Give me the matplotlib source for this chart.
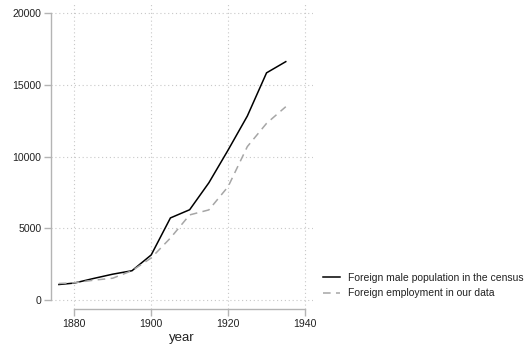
import matplotlib
matplotlib.use("Agg")
import matplotlib.pyplot as plt

# Census foreign male population vs. foreign employment in the data
years = [1876, 1880, 1885, 1890, 1895, 1900, 1905, 1910, 1915, 1920, 1925, 1930, 1935]
census_pop = [1080, 1180, 1500, 1800, 2040, 3140, 5720, 6290, 8170, 10450, 12820, 15830, 16610]
employment = [1150, 1200, 1380, 1520, 2040, 2930, 4320, 5930, 6280, 7900, 10690, 12310, 13470]

x_ticks = [1880, 1900, 1920, 1940]
y_ticks = [0, 5000, 10000, 15000, 20000]
legend_labels = ["Foreign male population in the census", "Foreign employment in our data"]

plt.rcParams["font.family"] = ["Liberation Sans", "DejaVu Sans"]

W, H = 526, 349
fig = plt.figure(figsize=(W / 100, H / 100), dpi=100)
left, right, top, bottom = 51, 313, 3, 309
ax = fig.add_axes([left / W, 1 - bottom / H, (right - left) / W, (bottom - top) / H])

ln1, = ax.plot(years, census_pop, color="black", lw=1.1, solid_joinstyle="miter")
ln2, = ax.plot(years, employment, color="#a6a6a6", lw=1.1, dashes=(5, 3.5))

ax.set_xlim(1873.94, 1942.08)
ax.set_ylim(-627, 20697)
ax.set_xticks(x_ticks)
ax.set_yticks(y_ticks)
ax.set_xticklabels([str(v) for v in x_ticks])
ax.set_yticklabels([str(v) for v in y_ticks])

ax.grid(True, color="#c8c8c8", lw=0.8, linestyle=(0, (1, 2.5)))
ax.set_axisbelow(True)

for s in ("top", "right"):
    ax.spines[s].set_visible(False)
for s in ("left", "bottom"):
    ax.spines[s].set_color("#b4b4b4")
    ax.spines[s].set_linewidth(1.0)
ax.spines["left"].set_bounds(0, 20000)
ax.spines["bottom"].set_bounds(1880, 1940)

ax.tick_params(axis="both", colors="#b4b4b4", labelcolor="#222222",
               labelsize=7.6, length=5, width=1.0, pad=2)

ax.set_xlabel("year", fontsize=9.5, color="#222222", labelpad=2)

fig.legend([ln1, ln2], legend_labels, loc="center left",
           bbox_to_anchor=(323 / W, 1 - 285.5 / H), frameon=False,
           fontsize=7.45, handlelength=1.6, handletextpad=0.8,
           labelspacing=0.55, borderaxespad=0, borderpad=0,
           labelcolor="#222222")

fig.savefig("out.png", dpi=100)
